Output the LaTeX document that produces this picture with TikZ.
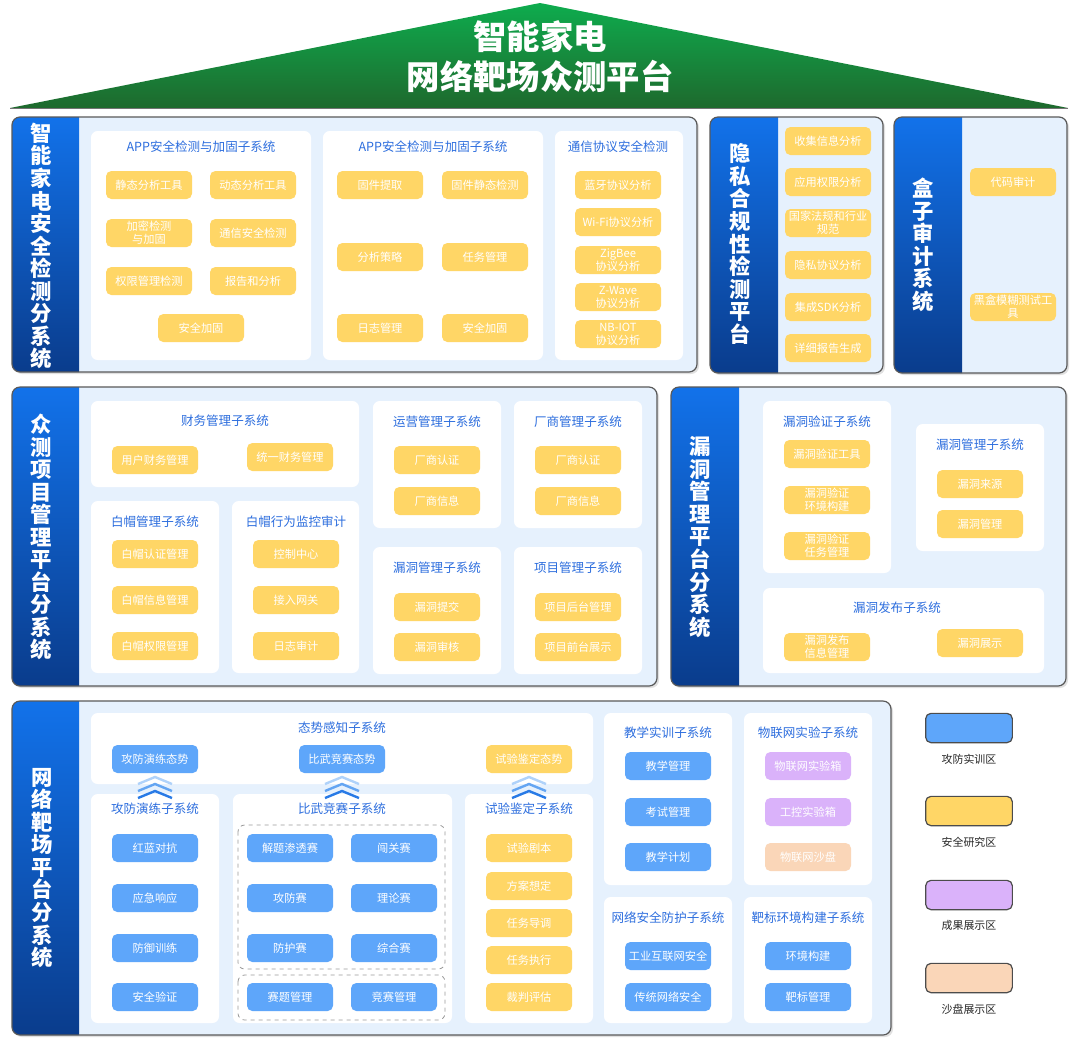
\documentclass[tikz,border=0pt]{standalone}
\usepackage{fontspec}
\setmainfont{Noto Sans CJK SC}
\definecolor{cYel}{RGB}{255,214,102}
\definecolor{cBlu}{RGB}{94,166,250}
\definecolor{cPur}{RGB}{218,178,250}
\definecolor{cPch}{RGB}{250,214,184}
\definecolor{cTtl}{RGB}{45,110,222}
\definecolor{cPanel}{RGB}{230,241,253}
\definecolor{barTop}{RGB}{18,114,234}
\definecolor{barBot}{RGB}{10,60,140}
\definecolor{roofTop}{RGB}{14,172,78}
\definecolor{roofBot}{RGB}{30,105,45}
\definecolor{cCh1}{RGB}{175,210,250}
\definecolor{cCh2}{RGB}{100,165,242}
\definecolor{cCh3}{RGB}{40,122,230}
\tikzset{
  item/.style={rounded corners=4pt, minimum width=64.5pt, minimum height=21pt, inner sep=0pt,
    text=white, align=center, font=\fontsize{8.4}{9.6}\selectfont},
  yel/.style={item, fill=cYel},
  blu/.style={item, fill=cBlu},
  pur/.style={item, fill=cPur},
  pch/.style={item, fill=cPch},
  ttl/.style={text=cTtl, font=\fontsize{9.4}{11}\selectfont, inner sep=0pt},
  vtxt/.style={text=white, font=\fontsize{16}{16.9}\selectfont\bfseries, align=center, inner sep=0pt},
  subbx/.style={fill=white, rounded corners=5pt},
  dashbx/.style={draw=black!40, dashed, line width=0.6pt, rounded corners=5pt},
  legbx/.style={draw=black!70, line width=0.9pt, rounded corners=4pt, minimum width=65pt, minimum height=22pt, inner sep=0pt},
  legtxt/.style={text=black!85, font=\fontsize{8.2}{10}\selectfont, inner sep=0pt},
  panelline/.style={draw=black!65, line width=0.9pt},
}
\newcommand{\panelbx}[5]{%
  \fill[black!12, rounded corners=6pt] ({#1+2},{#2+2}) rectangle ({#3+2},{#4+2});
  \fill[cPanel, rounded corners=6pt] (#1,#2) rectangle (#3,#4);
  \begin{scope}
    \clip[rounded corners=6pt] (#1,#2) rectangle (#3,#4);
    \shade[top color=barTop, bottom color=barBot] (#1,#2) rectangle (#5,#4);
  \end{scope}
  \draw[panelline, rounded corners=6pt] (#1,#2) rectangle (#3,#4);
}
\newcommand{\subbx}[4]{\fill[subbx] (#1,#2) rectangle (#3,#4);}
\newcommand{\chev}[2]{%
  \draw[cCh1, line width=1.8pt] ({#1-17},{#2+7}) -- (#1,#2) -- ({#1+17},{#2+7});
  \draw[cCh2, line width=1.8pt] ({#1-17},{#2+14}) -- (#1,{#2+7}) -- ({#1+17},{#2+14});
  \draw[cCh3, line width=1.8pt] ({#1-17},{#2+21}) -- (#1,{#2+14}) -- ({#1+17},{#2+21});
}
\begin{document}
\begin{tikzpicture}[x=0.75pt,y=-0.75pt]
\useasboundingbox (0,0) rectangle (1080,1047);
\fill[white] (0,0) rectangle (1080,1047);

% ---------- roof ----------
\shade[top color=roofTop, bottom color=roofBot] (10,108) -- (540,3) -- (1068,108) -- cycle;
\draw[black!55, line width=0.6pt] (10,108) -- (1068,108);
\node[text=white, font=\fontsize{25}{29}\selectfont\bfseries, inner sep=0pt] (t1) at (540,37) {智能家电};
\node[text=white, font=\fontsize{25}{29}\selectfont\bfseries, inner sep=0pt] (t2) at (540,76) {网络靶场众测平台};

% ---------- Panel A ----------
\panelbx{12}{117}{697}{372}{79}
\node[vtxt] (va) at (41,246) {智\\能\\家\\电\\安\\全\\检\\测\\分\\系\\统};
\subbx{91}{131}{311}{360}
\subbx{323}{131}{543}{360}
\subbx{555}{131}{683}{360}
\node[ttl] (at1) at (201,147) {APP安全检测与加固子系统};
\node[yel] (a11) at (149,185) {静态分析工具};
\node[yel] (a12) at (253,185) {动态分析工具};
\node[yel] (a13) at (149,233) {加密检测\\与加固};
\node[yel] (a14) at (253,233) {通信安全检测};
\node[yel] (a15) at (149,281) {权限管理检测};
\node[yel] (a16) at (253,281) {报告和分析};
\node[yel] (a17) at (201,328) {安全加固};
\node[ttl] (at2) at (433,147) {APP安全检测与加固子系统};
\node[yel] (a21) at (380,185) {固件提取};
\node[yel] (a22) at (485,185) {固件静态检测};
\node[yel] (a23) at (380,257) {分析策略};
\node[yel] (a24) at (485,257) {任务管理};
\node[yel] (a25) at (380,328) {日志管理};
\node[yel] (a26) at (485,328) {安全加固};
\node[ttl] (at3) at (618,147) {通信协议安全检测};
\node[yel] (a31) at (618,185) {蓝牙协议分析};
\node[yel] (a32) at (618,222) {Wi-Fi协议分析};
\node[yel] (a33) at (618,260) {ZigBee\\协议分析};
\node[yel] (a34) at (618,297) {Z-Wave\\协议分析};
\node[yel] (a35) at (618,334) {NB-IOT\\协议分析};

% ---------- Panel B ----------
\panelbx{710}{117}{883}{373}{778}
\node[vtxt] (vb) at (740,244) {隐\\私\\合\\规\\性\\检\\测\\平\\台};
\node[yel] (b1) at (828,141) {收集信息分析};
\node[yel] (b2) at (828,182) {应用权限分析};
\node[yel] (b3) at (828,223) {国家法规和行业\\规范};
\node[yel] (b4) at (828,265) {隐私协议分析};
\node[yel] (b5) at (828,307) {集成SDK分析};
\node[yel] (b6) at (828,348) {详细报告生成};

% ---------- Panel C ----------
\panelbx{894}{117}{1067}{373}{962}
\node[vtxt] (vc) at (923,245) {盒\\子\\审\\计\\系\\统};
\node[yel] (c1) at (1013,182) {代码审计};
\node[yel] (c2) at (1013,307) {黑盒模糊测试工\\具};

% ---------- Panel D ----------
\panelbx{12}{387}{657}{686}{79}
\node[vtxt] (vd) at (41,537) {众\\测\\项\\目\\管\\理\\平\\台\\分\\系\\统};
\subbx{91}{401}{359}{487}
\node[ttl] (dt1) at (225,421) {财务管理子系统};
\node[yel] (d11) at (155,460) {用户财务管理};
\node[yel] (d12) at (290,457) {统一财务管理};
\subbx{91}{501}{219}{673}
\node[ttl] (dt2) at (155,522) {白帽管理子系统};
\node[yel] (d21) at (155,554) {白帽认证管理};
\node[yel] (d22) at (155,600) {白帽信息管理};
\node[yel] (d23) at (155,646) {白帽权限管理};
\subbx{232}{501}{359}{673}
\node[ttl] (dt3) at (296,522) {白帽行为监控审计};
\node[yel] (d31) at (296,554) {控制中心};
\node[yel] (d32) at (296,600) {接入网关};
\node[yel] (d33) at (296,646) {日志审计};
\subbx{373}{401}{501}{528}
\node[ttl] (dt4) at (437,422) {运营管理子系统};
\node[yel] (d41) at (437,460) {厂商认证};
\node[yel] (d42) at (437,501) {厂商信息};
\subbx{514}{401}{642}{528}
\node[ttl] (dt5) at (578,422) {厂商管理子系统};
\node[yel] (d51) at (578,460) {厂商认证};
\node[yel] (d52) at (578,501) {厂商信息};
\subbx{373}{547}{501}{674}
\node[ttl] (dt6) at (437,568) {漏洞管理子系统};
\node[yel] (d61) at (437,607) {漏洞提交};
\node[yel] (d62) at (437,647) {漏洞审核};
\subbx{514}{547}{642}{674}
\node[ttl] (dt7) at (578,568) {项目管理子系统};
\node[yel] (d71) at (578,607) {项目后台管理};
\node[yel] (d72) at (578,647) {项目前台展示};

% ---------- Panel E ----------
\panelbx{671}{387}{1066}{686}{739}
\node[vtxt] (ve) at (700,537) {漏\\洞\\管\\理\\平\\台\\分\\系\\统};
\subbx{763}{401}{891}{573}
\node[ttl] (et1) at (827,422) {漏洞验证子系统};
\node[yel] (e11) at (827,454) {漏洞验证工具};
\node[yel] (e12) at (827,500) {漏洞验证\\环境构建};
\node[yel] (e13) at (827,546) {漏洞验证\\任务管理};
\subbx{916}{424}{1044}{551}
\node[ttl] (et2) at (980,445) {漏洞管理子系统};
\node[yel] (e21) at (980,484) {漏洞来源};
\node[yel] (e22) at (980,524) {漏洞管理};
\subbx{763}{588}{1044}{673}
\node[ttl] (et3) at (897,608) {漏洞发布子系统};
\node[yel] (e31) at (827,647) {漏洞发布\\信息管理};
\node[yel] (e32) at (980,643) {漏洞展示};

% ---------- Panel F ----------
\panelbx{12}{701}{891}{1035}{79}
\node[vtxt] (vf) at (42,868) {网\\络\\靶\\场\\平\\台\\分\\系\\统};
\subbx{91}{713}{593}{784}
\node[ttl] (ft0) at (342,728) {态势感知子系统};
\node[blu] (f01) at (155,759) {攻防演练态势};
\node[blu] (f02) at (342,759) {比武竞赛态势};
\node[yel] (f03) at (529,759) {试验鉴定态势};
\subbx{91}{794}{219}{1023}
\subbx{233}{794}{452}{1023}
\subbx{465}{794}{593}{1023}
\chev{155}{777}
\chev{342}{777}
\chev{529}{777}
\node[ttl] (ft1) at (155,809) {攻防演练子系统};
\node[blu] (f11) at (155,848) {红蓝对抗};
\node[blu] (f12) at (155,898) {应急响应};
\node[blu] (f13) at (155,948) {防御训练};
\node[blu] (f14) at (155,997) {安全验证};
\node[ttl] (ft2) at (342,809) {比武竞赛子系统};
\draw[dashbx] (238,825) rectangle (445,969);
\draw[dashbx] (238,975) rectangle (445,1020);
\node[blu] (f21) at (290,848) {解题渗透赛};
\node[blu] (f22) at (394,848) {闯关赛};
\node[blu] (f23) at (290,898) {攻防赛};
\node[blu] (f24) at (394,898) {理论赛};
\node[blu] (f25) at (290,948) {防护赛};
\node[blu] (f26) at (394,948) {综合赛};
\node[blu] (f27) at (290,997) {赛题管理};
\node[blu] (f28) at (394,997) {竞赛管理};
\node[ttl] (ft3) at (529,809) {试验鉴定子系统};
\node[yel] (f31) at (529,848) {试验剧本};
\node[yel] (f32) at (529,886) {方案想定};
\node[yel] (f33) at (529,923) {任务导调};
\node[yel] (f34) at (529,960) {任务执行};
\node[yel] (f35) at (529,997) {裁判评估};
\subbx{604}{713}{732}{885}
\node[ttl] (ft4) at (668,733) {教学实训子系统};
\node[blu] (f41) at (668,766) {教学管理};
\node[blu] (f42) at (668,812) {考试管理};
\node[blu] (f43) at (668,857) {教学计划};
\subbx{744}{713}{872}{885}
\node[ttl] (ft5) at (808,733) {物联网实验子系统};
\node[pur] (f51) at (808,766) {物联网实验箱};
\node[pur] (f52) at (808,812) {工控实验箱};
\node[pch] (f53) at (808,857) {物联网沙盘};
\subbx{604}{897}{732}{1023}
\node[ttl] (ft6) at (668,918) {网络安全防护子系统};
\node[blu] (f61) at (668,956) {工业互联网安全};
\node[blu] (f62) at (668,997) {传统网络安全};
\subbx{744}{897}{872}{1023}
\node[ttl] (ft7) at (808,918) {靶标环境构建子系统};
\node[blu] (f71) at (808,956) {环境构建};
\node[blu] (f72) at (808,997) {靶标管理};

% ---------- Legend ----------
\node[legbx, fill=cBlu] (l1) at (969,728) {};
\node[legtxt] (l1t) at (969,759) {攻防实训区};
\node[legbx, fill=cYel] (l2) at (969,811) {};
\node[legtxt] (l2t) at (969,842) {安全研究区};
\node[legbx, fill=cPur] (l3) at (969,895) {};
\node[legtxt] (l3t) at (969,925) {成果展示区};
\node[legbx, fill=cPch] (l4) at (969,978) {};
\node[legtxt] (l4t) at (969,1009) {沙盘展示区};
\end{tikzpicture}
\end{document}
